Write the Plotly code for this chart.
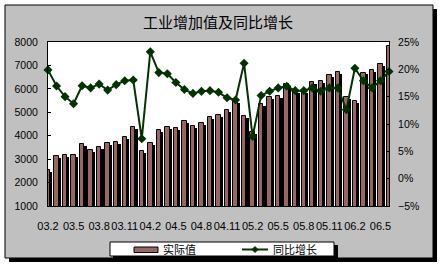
import plotly.graph_objects as go

# ---------------- data ----------------
months = [
    "03.2", "03.3", "03.4", "03.5", "03.6", "03.7", "03.8", "03.9", "03.10", "03.11", "03.12",
    "04.1", "04.2", "04.3", "04.4", "04.5", "04.6", "04.7", "04.8", "04.9", "04.10", "04.11", "04.12",
    "05.1", "05.2", "05.3", "05.4", "05.5", "05.6", "05.7", "05.8", "05.9", "05.10", "05.11", "05.12",
    "06.1", "06.2", "06.3", "06.4", "06.5", "06.6",
]
actual_value = [
    2540, 3130, 3170, 3180, 3650, 3390, 3520, 3690, 3730, 3945, 4370,
    3350, 3690, 4244, 4372, 4316, 4628, 4414, 4530, 4786, 4871, 5084, 5481,
    4828, 4158, 5340, 5652, 5681, 6194, 5880, 5908, 6279, 6335, 6591, 6706,
    5639, 5481, 6690, 6805, 7061, 7842,
]
yoy_growth = [
    19.9, 16.95, 15.0, 13.7, 17.0, 16.6, 17.3, 16.2, 17.2, 17.9, 18.05,
    7.3, 23.2, 19.4, 19.2, 17.6, 16.3, 15.6, 15.97, 16.1, 15.8, 14.8, 14.4,
    21.1, 7.7, 15.2, 16.0, 16.6, 16.9, 16.1, 16.1, 16.6, 16.0, 16.6, 16.6,
    12.6, 20.2, 17.9, 16.6, 17.9, 19.6,
]
tick_labels = months[::3]

BAR_COLOR = "#996666"
LINE_COLOR = "#003300"
FRAME_GRAY = "#c0c0c0"
CJK = "Noto Sans CJK SC"
LAT = "Liberation Sans"

W, H = 441, 267
L, R, T, B = 48, 52, 42, 61
PW, PH = W - L - R, H - T - B


def px(x):
    return (x - L) / PW


def py(y):
    return (H - B - y) / PH


fig = go.Figure()

# bar shadow (drawn first)
fig.add_trace(go.Bar(
    x=months, y=[v - 70 for v in actual_value], offset=0.05, width=0.47,
    marker=dict(color="black", line=dict(width=0)), showlegend=False,
    hoverinfo="skip",
))
# bar faces
fig.add_trace(go.Bar(
    x=months, y=actual_value, offset=-0.26, width=0.52, name="实际值",
    marker=dict(color=BAR_COLOR, line=dict(color="black", width=1)),
    showlegend=False,
))
# yoy growth line
fig.add_trace(go.Scatter(
    x=months, y=yoy_growth, yaxis="y2", mode="lines+markers", name="同比增长",
    line=dict(color=LINE_COLOR, width=2),
    marker=dict(symbol="diamond", size=7, color=LINE_COLOR),
    cliponaxis=False, showlegend=False,
))

shapes = [
    # outer frame shadow + frame
    dict(type="rect", xref="paper", yref="paper", x0=px(9), x1=px(437), y0=py(9), y1=py(262),
         fillcolor="black", line=dict(width=0), layer="below"),
    dict(type="rect", xref="paper", yref="paper", x0=px(5), x1=px(433), y0=py(5), y1=py(258),
         fillcolor=FRAME_GRAY, line=dict(color="black", width=1), layer="below"),
    # plot area
    dict(type="rect", xref="paper", yref="paper", x0=0, x1=1, y0=0, y1=1,
         fillcolor="white", line=dict(width=0), layer="below"),
    # legend box shadow + box
    dict(type="rect", xref="paper", yref="paper", x0=px(113), x1=px(338), y0=py(245), y1=py(259),
         fillcolor="black", line=dict(width=0), layer="above"),
    dict(type="rect", xref="paper", yref="paper", x0=px(110), x1=px(334), y0=py(242), y1=py(256),
         fillcolor="white", line=dict(color="black", width=1), layer="above"),
    # legend bar symbol
    dict(type="rect", xref="paper", yref="paper", x0=px(134), x1=px(158), y0=py(247), y1=py(252.5),
         fillcolor=BAR_COLOR, line=dict(color="black", width=1), layer="above"),
    # legend line symbol
    dict(type="line", xref="paper", yref="paper", x0=px(242), x1=px(268), y0=py(249.5), y1=py(249.5),
         line=dict(color=LINE_COLOR, width=2), layer="above"),
    dict(type="path", xref="paper", yref="paper",
         path=f"M {px(255)},{py(246.5)} L {px(258)},{py(249.5)} L {px(255)},{py(252.5)} L {px(252)},{py(249.5)} Z",
         fillcolor=LINE_COLOR, line=dict(color=LINE_COLOR, width=1), layer="above"),
]

annotations = [
    dict(text="工业增加值及同比增长", xref="paper", yref="paper", x=px(218), y=py(21.5),
         xanchor="center", yanchor="middle", showarrow=False,
         font=dict(family=CJK, size=15, color="black")),
    dict(text="实际值", xref="paper", yref="paper", x=px(161), y=py(249.5),
         xanchor="left", yanchor="middle", showarrow=False,
         font=dict(family=CJK, size=11, color="black")),
    dict(text="同比增长", xref="paper", yref="paper", x=px(271), y=py(249.5),
         xanchor="left", yanchor="middle", showarrow=False,
         font=dict(family=CJK, size=11, color="black")),
]

fig.update_layout(
    width=W, height=H,
    margin=dict(l=L, r=R, t=T, b=B, pad=0),
    paper_bgcolor="white",
    plot_bgcolor="rgba(0,0,0,0)",
    barmode="overlay",
    bargap=0,
    shapes=shapes,
    annotations=annotations,
    showlegend=False,
    xaxis=dict(
        type="category", categoryorder="array", categoryarray=months,
        range=[0, len(months) - 1],
        tickmode="array", tickvals=tick_labels, ticktext=tick_labels,
        ticks="", showgrid=False, zeroline=False,
        showline=True, linecolor="black", linewidth=1, mirror=True,
        tickfont=dict(family=LAT, size=11, color="black"),
        ticklabelstandoff=10, tickangle=0,
    ),
    yaxis=dict(
        range=[1000, 8000], dtick=1000, tick0=1000,
        ticks="inside", ticklen=3, tickcolor="black",
        showgrid=False, zeroline=False,
        showline=True, linecolor="black", linewidth=1, mirror=True,
        tickfont=dict(family=LAT, size=10.5, color="black"),
        ticklabelstandoff=7,
    ),
    yaxis2=dict(
        overlaying="y", side="right",
        range=[-5, 25], dtick=5, tick0=-5, ticksuffix="%",
        ticks="inside", ticklen=3, tickcolor="black",
        showgrid=False, zeroline=False,
        showline=True, linecolor="black", linewidth=1,
        tickfont=dict(family=LAT, size=10.5, color="black"),
        ticklabelstandoff=6,
    ),
)

fig.write_html("out.html")
